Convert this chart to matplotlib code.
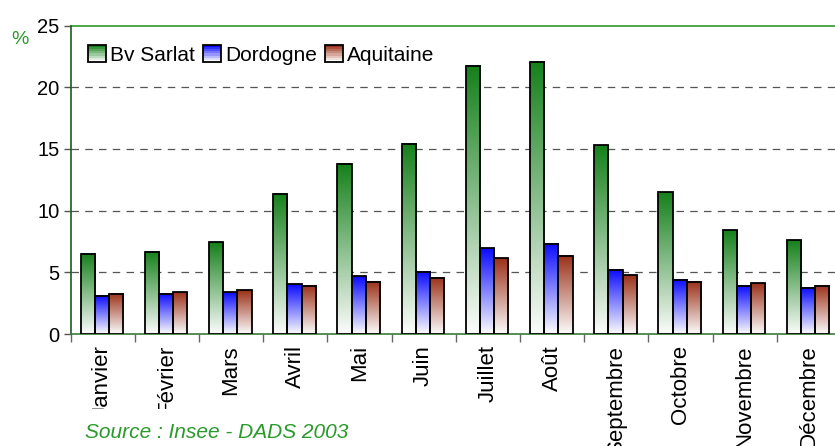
import numpy as np
import matplotlib
matplotlib.use("Agg")
import matplotlib.pyplot as plt
from matplotlib.colors import to_rgb
from matplotlib.patches import Rectangle
from matplotlib.legend_handler import HandlerBase

months = ["Janvier", "Février", "Mars", "Avril", "Mai", "Juin", "Juillet",
          "Août", "Septembre", "Octobre", "Novembre", "Décembre"]
series_names = ["Bv Sarlat", "Dordogne", "Aquitaine"]
sarlat = [6.5, 6.65, 7.45, 11.35, 13.8, 15.4, 21.75, 22.05, 15.3, 11.5, 8.4, 7.6]
dordogne = [3.1, 3.25, 3.4, 4.05, 4.7, 5.05, 6.95, 7.3, 5.2, 4.4, 3.9, 3.75]
aquitaine = [3.25, 3.4, 3.55, 3.9, 4.25, 4.55, 6.15, 6.35, 4.75, 4.25, 4.1, 3.9]
yticks = [0, 5, 10, 15, 20, 25]

top_colors = ["#15801a", "#0a0aff", "#9a3018"]

plt.rcParams['font.family'] = ['Liberation Sans', 'DejaVu Sans']

W, H = 835, 446
fig = plt.figure(figsize=(W / 100, H / 100), dpi=100)
left, right, bottom, top = 70.5, 841, 334, 25.5
ax = fig.add_axes([left / W, 1 - bottom / H, (right - left) / W, (bottom - top) / H])

x = np.arange(len(months))
bw = 0.221
offsets = [-bw - 0.012, -0.012, bw - 0.012]
data = [sarlat, dordogne, aquitaine]


def gradient(color, n=256):
    c = np.array(to_rgb(color))
    t = np.linspace(0, 1, n)[:, None]  # 0 at top
    w = np.array([0.99, 0.99, 0.99])
    rgb = c * (1 - t) + w * t
    return rgb[:, None, :]


for vals, off, col in zip(data, offsets, top_colors):
    bars = ax.bar(x + off, vals, width=bw, facecolor='none', edgecolor='black',
                  linewidth=1.3, zorder=4)
    g = gradient(col)
    for b in bars:
        x0 = b.get_x()
        x1 = x0 + b.get_width()
        h = b.get_height()
        ax.imshow(g, extent=(x0, x1, 0, h), origin='upper', aspect='auto',
                  zorder=3, interpolation='bilinear')

ax.set_xlim(-0.5, len(months) - 0.5)
ax.set_ylim(0, 25)

# grid
for yv in yticks[1:-1]:
    ax.axhline(yv, color='#555555', linestyle=(0, (6, 5)), linewidth=0.9, zorder=1)

for s in ['top', 'right']:
    ax.spines[s].set_visible(False)
ax.axhline(25, color='#2e9a2e', linewidth=1.2, zorder=2, clip_on=False)
ax.spines['left'].set_color('#1f5a1f')
ax.spines['left'].set_linewidth(1.2)
ax.spines['bottom'].set_color('#3a7a3a')
ax.spines['bottom'].set_linewidth(1.2)

ax.set_yticks(yticks)
ax.set_yticklabels([str(v) for v in yticks], fontsize=14.5)
ax.tick_params(axis='y', direction='out', length=5, width=1, color='#555555', pad=3)

ax.set_xticks(np.arange(-0.5, len(months), 1.0))
ax.set_xticklabels([])
ax.tick_params(axis='x', direction='out', length=6, width=1, color='#666666')
for i, m in enumerate(months):
    ax.text(i, -0.9, m, rotation=90, ha='center', va='top', fontsize=16,
            transform=ax.transData, clip_on=False, zorder=1)

fig.text(20 / W, 1 - 40 / H, "%", color='#2a9a2a', fontsize=14, ha='center', va='center')
fig.text(85 / W, 1 - 433 / H, "Source : Insee - DADS 2003", color='#2a9a2a',
         fontsize=15, style='italic', ha='left', va='center', zorder=10,
         bbox=dict(boxstyle='square,pad=0.7', facecolor='white', edgecolor='none'))


class GradHandler(HandlerBase):
    def __init__(self, color):
        super().__init__()
        self.color = color

    def create_artists(self, legend, orig_handle, xdescent, ydescent, width, height,
                       fontsize, trans):
        arts = []
        n = 8
        c = np.array(to_rgb(self.color))
        sz = height * 1.05
        x0 = -xdescent + (width - sz) / 2
        y0 = -ydescent + (height - sz) / 2
        for k in range(n):
            t = k / (n - 1)
            rgb = c * (1 - t) + np.array([1, 1, 1]) * t
            r = Rectangle((x0, y0 + sz - (k + 1) * sz / n), sz, sz / n,
                          facecolor=rgb, edgecolor='none', transform=trans)
            arts.append(r)
        arts.append(Rectangle((x0, y0), sz, sz, facecolor='none', edgecolor='black',
                              linewidth=1.3, transform=trans))
        return arts


handles = [Rectangle((0, 0), 1, 1) for _ in series_names]
hmap = {h: GradHandler(c) for h, c in zip(handles, top_colors)}
leg = ax.legend(handles, series_names, handler_map=hmap, ncol=3, frameon=False,
                fontsize=15, loc='upper left',
                bbox_to_anchor=(3 / (right - left), 1 - 5 / (bottom - top)),
                handlelength=0.85, handleheight=0.85, handletextpad=0.2,
                columnspacing=0.4, borderaxespad=0.3)
leg.set_zorder(6)

fig.savefig("out.png", dpi=100)
